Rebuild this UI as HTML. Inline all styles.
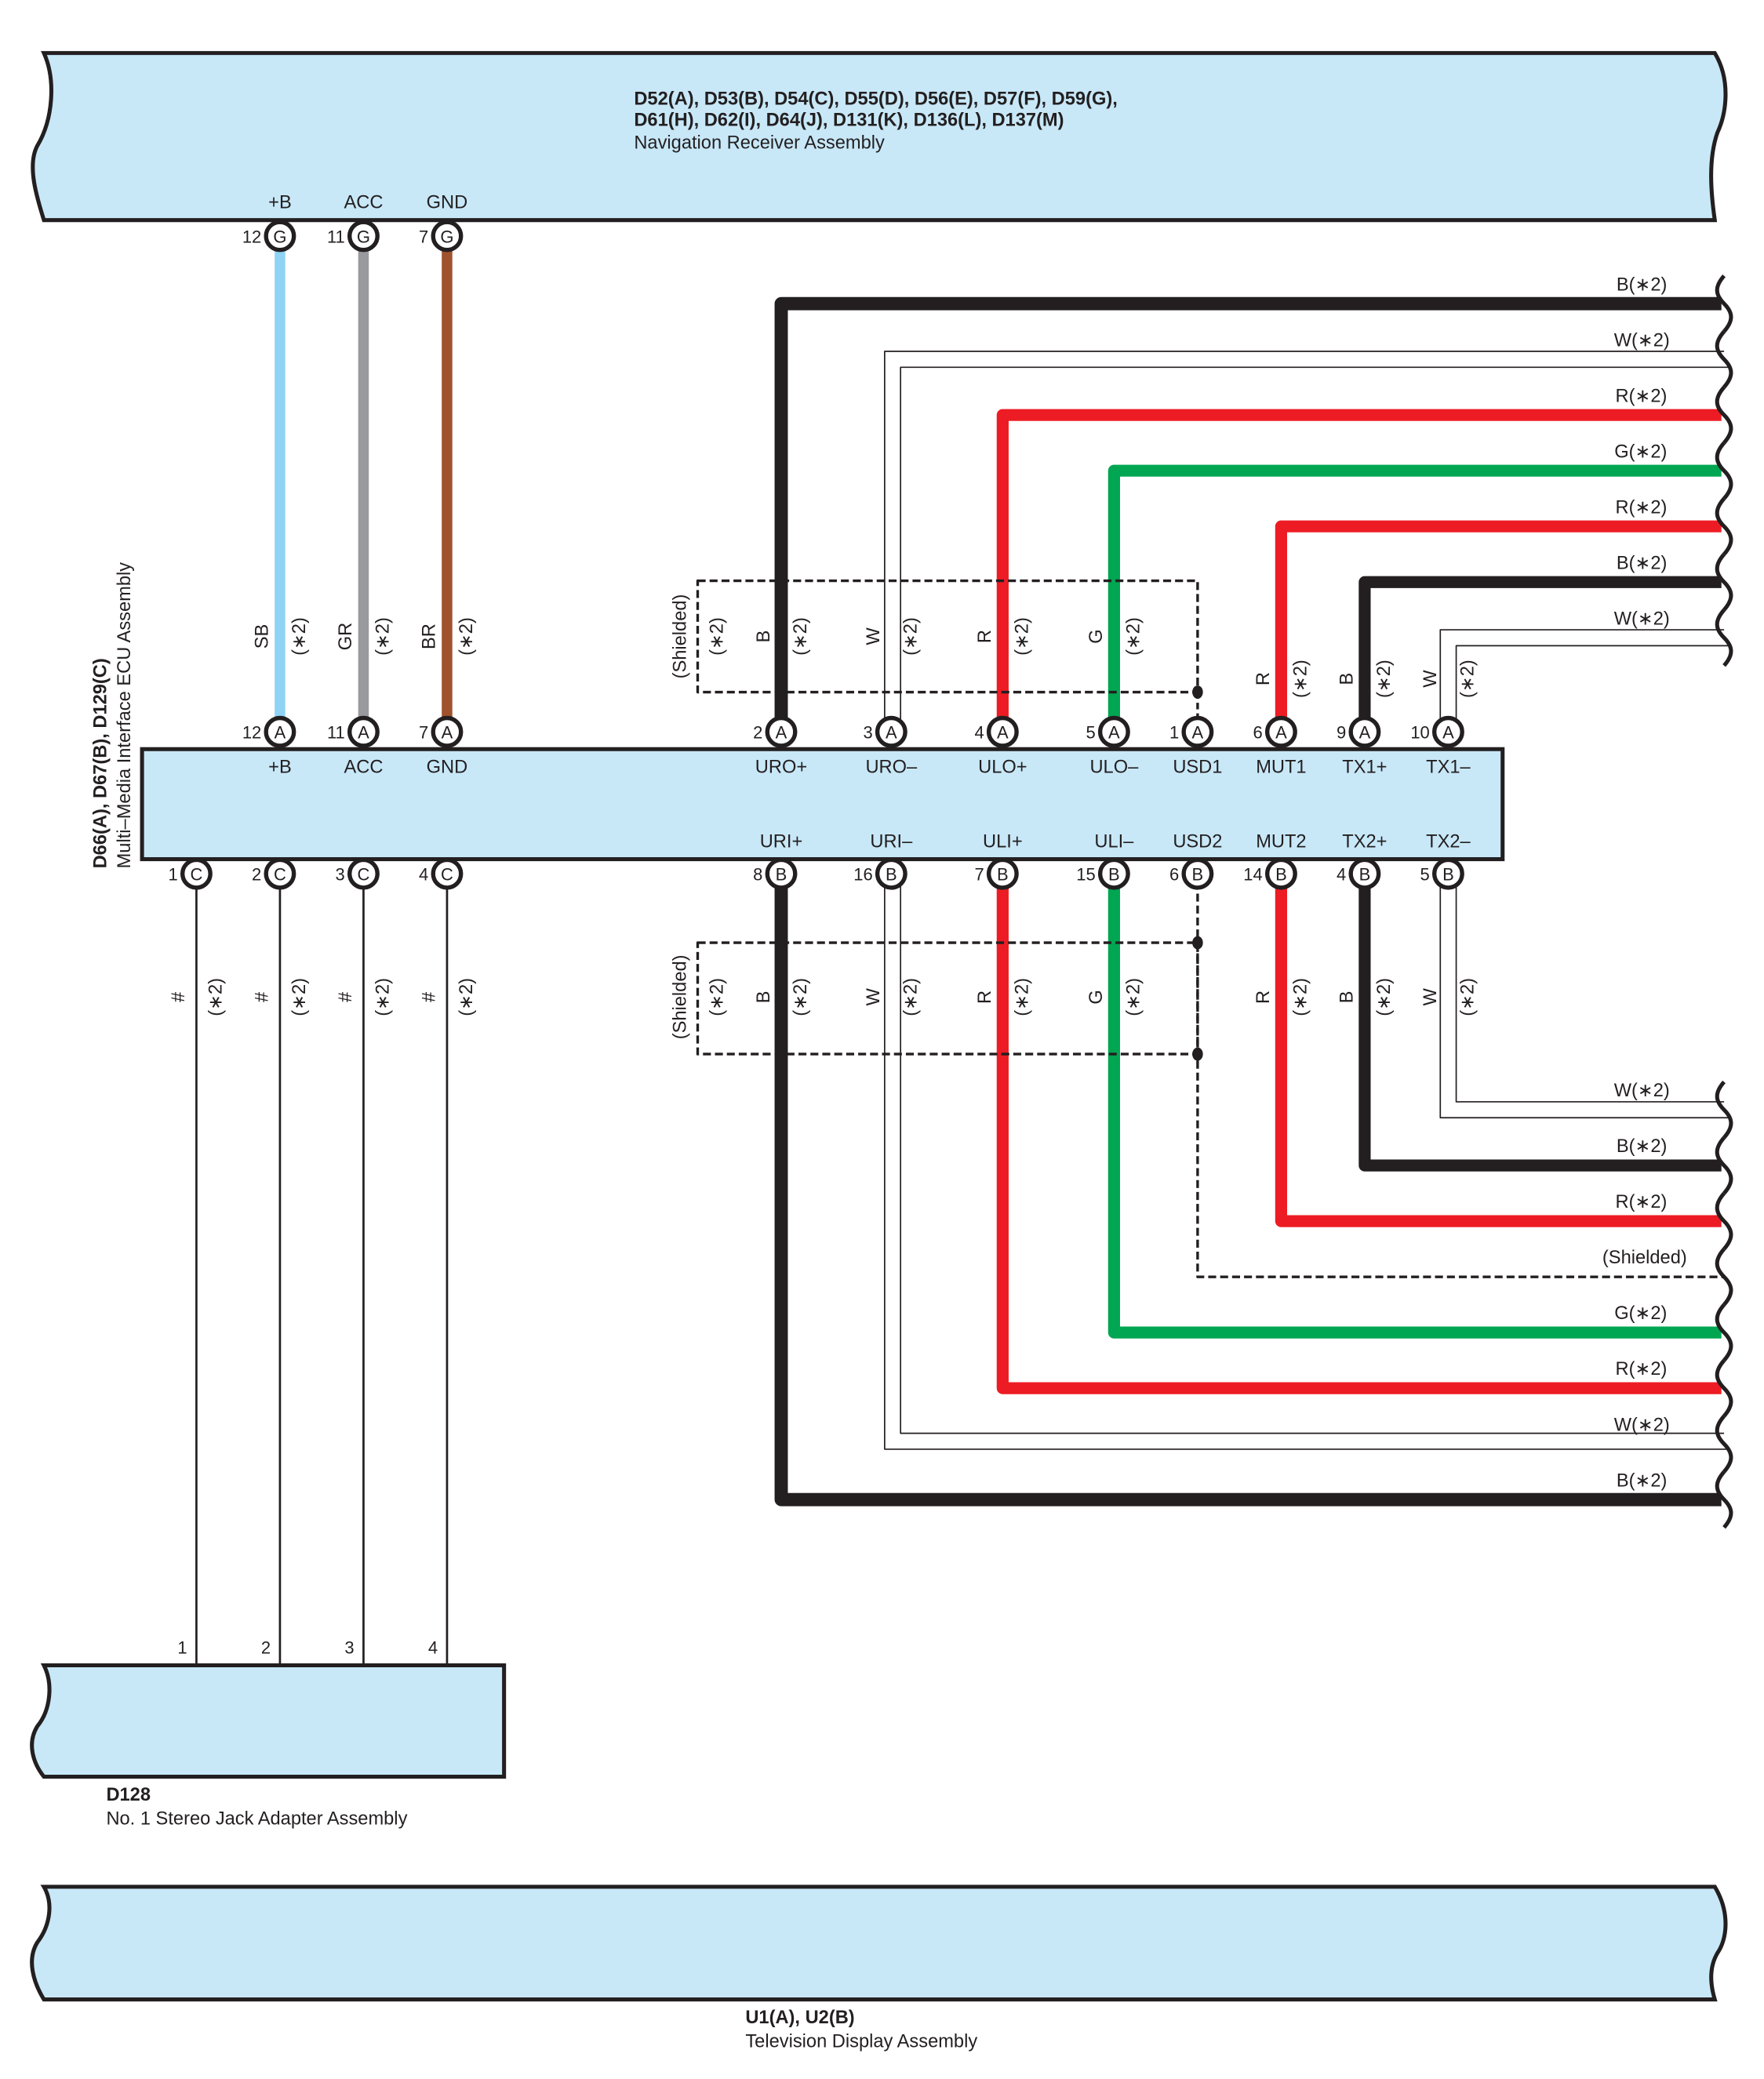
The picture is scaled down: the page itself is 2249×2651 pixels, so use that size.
<!DOCTYPE html>
<html><head><meta charset="utf-8"><style>
html,body{margin:0;padding:0;background:#fff}
svg{display:block}
text{font-family:"Liberation Sans",sans-serif;fill:#231f20}
.t{font-size:14px}
.b{font-size:14px;font-weight:bold}
.pl{font-size:14px;text-anchor:middle}
.pn{font-size:13px;text-anchor:end}
.cl{font-size:14px;text-anchor:middle}
.rl{font-size:14px;text-anchor:end}
</style></head><body>
<svg width="2249" height="2651" viewBox="0 0 1330 1568" xmlns="http://www.w3.org/2000/svg">
<defs>
<g id="cir"><circle r="10.5" fill="#fff" stroke="#231f20" stroke-width="3.2"/></g>
<path id="wv" d="M0,0 c-7,8 -7,14 0,21 c7,7 7,13 0,21" fill="none" stroke="#231f20" stroke-width="3"/>
</defs>
<!-- top banner -->
<path d="M33,40 L1293,40 C1305,60 1302,85 1295,100 C1288,120 1290,145 1293,166 L33,166 C28,150 20,125 28,110 C40,90 42,60 33,40 Z" fill="#c8e8f8" stroke="#231f20" stroke-width="3"/>
<text class="b" x="478" y="79">D52(A), D53(B), D54(C), D55(D), D56(E), D57(F), D59(G),</text>
<text class="b" x="478" y="95">D61(H), D62(I), D64(J), D131(K), D136(L), D137(M)</text>
<text class="t" x="478" y="112">Navigation Receiver Assembly</text>
<text class="pl" x="211" y="157">+B</text><text class="pl" x="274" y="157">ACC</text><text class="pl" x="337" y="157">GND</text>

<line x1="211" y1="185" x2="211" y2="545" stroke="#8fd3f5" stroke-width="8"/>
<line x1="274" y1="185" x2="274" y2="545" stroke="#999a9d" stroke-width="8"/>
<line x1="337" y1="185" x2="337" y2="545" stroke="#a0522d" stroke-width="8"/>

<g stroke="#231f20" stroke-width="1.6">
<line x1="148" y1="665" x2="148" y2="1256"/><line x1="211" y1="665" x2="211" y2="1256"/>
<line x1="274" y1="665" x2="274" y2="1256"/><line x1="337" y1="665" x2="337" y2="1256"/>
</g>

<g fill="none" stroke-linejoin="round">
<path d="M589,545 V229 H1298" stroke="#231f20" stroke-width="10"/>
<path d="M667,545 V265 H1300" stroke="#231f20" stroke-width="1"/>
<path d="M679,545 V277 H1304" stroke="#231f20" stroke-width="1"/>
<path d="M756,545 V313 H1298" stroke="#ed1c24" stroke-width="9"/>
<path d="M840,545 V355 H1298" stroke="#00a651" stroke-width="9"/>
<path d="M966,545 V397 H1298" stroke="#ed1c24" stroke-width="9"/>
<path d="M1029,545 V439 H1298" stroke="#231f20" stroke-width="9"/>
<path d="M1086,545 V475 H1300" stroke="#231f20" stroke-width="1"/>
<path d="M1098,545 V487 H1304" stroke="#231f20" stroke-width="1"/>
<path d="M589,665 V1131 H1298" stroke="#231f20" stroke-width="10"/>
<path d="M667,665 V1093 H1304" stroke="#231f20" stroke-width="1"/>
<path d="M679,665 V1081 H1300" stroke="#231f20" stroke-width="1"/>
<path d="M756,665 V1047 H1298" stroke="#ed1c24" stroke-width="9"/>
<path d="M840,665 V1005 H1298" stroke="#00a651" stroke-width="9"/>
<path d="M903,665 V963 H1300" stroke="#231f20" stroke-width="2" stroke-dasharray="6,3"/>
<path d="M966,665 V921 H1298" stroke="#ed1c24" stroke-width="9"/>
<path d="M1029,665 V879 H1298" stroke="#231f20" stroke-width="9"/>
<path d="M1098,665 V831 H1300" stroke="#231f20" stroke-width="1"/>
<path d="M1086,665 V843 H1304" stroke="#231f20" stroke-width="1"/>
<rect x="526" y="438" width="377" height="84" stroke="#231f20" stroke-width="2" stroke-dasharray="6,3"/>
<line x1="903" y1="522" x2="903" y2="545" stroke="#231f20" stroke-width="2" stroke-dasharray="5,3"/>
<rect x="526" y="711" width="377" height="84" stroke="#231f20" stroke-width="2" stroke-dasharray="6,3"/>
</g>
<ellipse cx="903" cy="522" rx="4" ry="5" fill="#231f20"/>
<ellipse cx="903" cy="711" rx="4" ry="5" fill="#231f20"/>
<ellipse cx="903" cy="795" rx="4" ry="5" fill="#231f20"/>

<!-- break marks -->
<use href="#wv" x="1300" y="208"/><use href="#wv" x="1300" y="250"/><use href="#wv" x="1300" y="292"/><use href="#wv" x="1300" y="334"/><use href="#wv" x="1300" y="376"/><use href="#wv" x="1300" y="418"/><use href="#wv" x="1300" y="460"/>
<use href="#wv" x="1300" y="816"/><use href="#wv" x="1300" y="858"/><use href="#wv" x="1300" y="900"/><use href="#wv" x="1300" y="942"/><use href="#wv" x="1300" y="984"/><use href="#wv" x="1300" y="1026"/><use href="#wv" x="1300" y="1068"/><use href="#wv" x="1300" y="1110"/>

<text class="rl" x="1257" y="219">B(∗2)</text>
<text class="rl" x="1259" y="261">W(∗2)</text>
<text class="rl" x="1257" y="303">R(∗2)</text>
<text class="rl" x="1257" y="345">G(∗2)</text>
<text class="rl" x="1257" y="387">R(∗2)</text>
<text class="rl" x="1257" y="429">B(∗2)</text>
<text class="rl" x="1259" y="471">W(∗2)</text>
<text class="rl" x="1259" y="827">W(∗2)</text>
<text class="rl" x="1257" y="869">B(∗2)</text>
<text class="rl" x="1257" y="911">R(∗2)</text>
<text class="rl" x="1272" y="953">(Shielded)</text>
<text class="rl" x="1257" y="995">G(∗2)</text>
<text class="rl" x="1257" y="1037">R(∗2)</text>
<text class="rl" x="1259" y="1079">W(∗2)</text>
<text class="rl" x="1257" y="1121">B(∗2)</text>

<rect x="107" y="565" width="1026" height="83" fill="#c8e8f8" stroke="#231f20" stroke-width="3"/>
<text class="pl" x="211" y="583">+B</text><text class="pl" x="274" y="583">ACC</text><text class="pl" x="337" y="583">GND</text>
<text class="pl" x="589" y="583">URO+</text><text class="pl" x="672" y="583">URO–</text><text class="pl" x="756" y="583">ULO+</text><text class="pl" x="840" y="583">ULO–</text><text class="pl" x="903" y="583">USD1</text><text class="pl" x="966" y="583">MUT1</text><text class="pl" x="1029" y="583">TX1+</text><text class="pl" x="1092" y="583">TX1–</text>
<text class="pl" x="589" y="639">URI+</text><text class="pl" x="672" y="639">URI–</text><text class="pl" x="756" y="639">ULI+</text><text class="pl" x="840" y="639">ULI–</text><text class="pl" x="903" y="639">USD2</text><text class="pl" x="966" y="639">MUT2</text><text class="pl" x="1029" y="639">TX2+</text><text class="pl" x="1092" y="639">TX2–</text>
<text class="b" transform="translate(80,655) rotate(-90)">D66(A), D67(B), D129(C)</text>
<text class="t" transform="translate(98,655) rotate(-90)">Multi–Media Interface ECU Assembly</text>

<g font-size="13" text-anchor="middle">
<use href="#cir" x="211" y="178"/><use href="#cir" x="274" y="178"/><use href="#cir" x="337" y="178"/>
<text x="211" y="183">G</text><text x="274" y="183">G</text><text x="337" y="183">G</text>
<use href="#cir" x="211" y="552"/><use href="#cir" x="274" y="552"/><use href="#cir" x="337" y="552"/>
<use href="#cir" x="589" y="552"/><use href="#cir" x="672" y="552"/><use href="#cir" x="756" y="552"/><use href="#cir" x="840" y="552"/><use href="#cir" x="903" y="552"/><use href="#cir" x="966" y="552"/><use href="#cir" x="1029" y="552"/><use href="#cir" x="1092" y="552"/>
<text x="211" y="557">A</text><text x="274" y="557">A</text><text x="337" y="557">A</text><text x="589" y="557">A</text><text x="672" y="557">A</text><text x="756" y="557">A</text><text x="840" y="557">A</text><text x="903" y="557">A</text><text x="966" y="557">A</text><text x="1029" y="557">A</text><text x="1092" y="557">A</text>
<use href="#cir" x="148" y="659"/><use href="#cir" x="211" y="659"/><use href="#cir" x="274" y="659"/><use href="#cir" x="337" y="659"/>
<text x="148" y="664">C</text><text x="211" y="664">C</text><text x="274" y="664">C</text><text x="337" y="664">C</text>
<use href="#cir" x="589" y="659"/><use href="#cir" x="672" y="659"/><use href="#cir" x="756" y="659"/><use href="#cir" x="840" y="659"/><use href="#cir" x="903" y="659"/><use href="#cir" x="966" y="659"/><use href="#cir" x="1029" y="659"/><use href="#cir" x="1092" y="659"/>
<text x="589" y="664">B</text><text x="672" y="664">B</text><text x="756" y="664">B</text><text x="840" y="664">B</text><text x="903" y="664">B</text><text x="966" y="664">B</text><text x="1029" y="664">B</text><text x="1092" y="664">B</text>
</g>
<g>
<text class="pn" x="197" y="183">12</text><text class="pn" x="260" y="183">11</text><text class="pn" x="323" y="183">7</text>
<text class="pn" x="197" y="557">12</text><text class="pn" x="260" y="557">11</text><text class="pn" x="323" y="557">7</text>
<text class="pn" x="575" y="557">2</text><text class="pn" x="658" y="557">3</text><text class="pn" x="742" y="557">4</text><text class="pn" x="826" y="557">5</text><text class="pn" x="889" y="557">1</text><text class="pn" x="952" y="557">6</text><text class="pn" x="1015" y="557">9</text><text class="pn" x="1078" y="557">10</text>
<text class="pn" x="134" y="664">1</text><text class="pn" x="197" y="664">2</text><text class="pn" x="260" y="664">3</text><text class="pn" x="323" y="664">4</text>
<text class="pn" x="575" y="664">8</text><text class="pn" x="658" y="664">16</text><text class="pn" x="742" y="664">7</text><text class="pn" x="826" y="664">15</text><text class="pn" x="889" y="664">6</text><text class="pn" x="952" y="664">14</text><text class="pn" x="1015" y="664">4</text><text class="pn" x="1078" y="664">5</text>
</g>

<g>
<text class="cl" transform="translate(202,480) rotate(-90)">SB</text><text class="cl" transform="translate(230,480) rotate(-90)">(∗2)</text>
<text class="cl" transform="translate(265,480) rotate(-90)">GR</text><text class="cl" transform="translate(293,480) rotate(-90)">(∗2)</text>
<text class="cl" transform="translate(328,480) rotate(-90)">BR</text><text class="cl" transform="translate(356,480) rotate(-90)">(∗2)</text>
<text class="cl" transform="translate(517,480) rotate(-90)">(Shielded)</text><text class="cl" transform="translate(545,480) rotate(-90)">(∗2)</text>
<text class="cl" transform="translate(580,480) rotate(-90)">B</text><text class="cl" transform="translate(608,480) rotate(-90)">(∗2)</text>
<text class="cl" transform="translate(663,480) rotate(-90)">W</text><text class="cl" transform="translate(691,480) rotate(-90)">(∗2)</text>
<text class="cl" transform="translate(747,480) rotate(-90)">R</text><text class="cl" transform="translate(775,480) rotate(-90)">(∗2)</text>
<text class="cl" transform="translate(831,480) rotate(-90)">G</text><text class="cl" transform="translate(859,480) rotate(-90)">(∗2)</text>
<text class="cl" transform="translate(957,512) rotate(-90)">R</text><text class="cl" transform="translate(985,512) rotate(-90)">(∗2)</text>
<text class="cl" transform="translate(1020,512) rotate(-90)">B</text><text class="cl" transform="translate(1048,512) rotate(-90)">(∗2)</text>
<text class="cl" transform="translate(1083,512) rotate(-90)">W</text><text class="cl" transform="translate(1111,512) rotate(-90)">(∗2)</text>
<text class="cl" transform="translate(139,752) rotate(-90)">#</text><text class="cl" transform="translate(167,752) rotate(-90)">(∗2)</text>
<text class="cl" transform="translate(202,752) rotate(-90)">#</text><text class="cl" transform="translate(230,752) rotate(-90)">(∗2)</text>
<text class="cl" transform="translate(265,752) rotate(-90)">#</text><text class="cl" transform="translate(293,752) rotate(-90)">(∗2)</text>
<text class="cl" transform="translate(328,752) rotate(-90)">#</text><text class="cl" transform="translate(356,752) rotate(-90)">(∗2)</text>
<text class="cl" transform="translate(517,752) rotate(-90)">(Shielded)</text><text class="cl" transform="translate(545,752) rotate(-90)">(∗2)</text>
<text class="cl" transform="translate(580,752) rotate(-90)">B</text><text class="cl" transform="translate(608,752) rotate(-90)">(∗2)</text>
<text class="cl" transform="translate(663,752) rotate(-90)">W</text><text class="cl" transform="translate(691,752) rotate(-90)">(∗2)</text>
<text class="cl" transform="translate(747,752) rotate(-90)">R</text><text class="cl" transform="translate(775,752) rotate(-90)">(∗2)</text>
<text class="cl" transform="translate(831,752) rotate(-90)">G</text><text class="cl" transform="translate(859,752) rotate(-90)">(∗2)</text>
<text class="cl" transform="translate(957,752) rotate(-90)">R</text><text class="cl" transform="translate(985,752) rotate(-90)">(∗2)</text>
<text class="cl" transform="translate(1020,752) rotate(-90)">B</text><text class="cl" transform="translate(1048,752) rotate(-90)">(∗2)</text>
<text class="cl" transform="translate(1083,752) rotate(-90)">W</text><text class="cl" transform="translate(1111,752) rotate(-90)">(∗2)</text>
</g>

<path d="M33,1256 L380,1256 L380,1340 L33,1340 C25,1330 20,1315 28,1302 C38,1290 40,1270 33,1256 Z" fill="#c8e8f8" stroke="#231f20" stroke-width="3"/>
<text class="pn" x="141" y="1247">1</text><text class="pn" x="204" y="1247">2</text><text class="pn" x="267" y="1247">3</text><text class="pn" x="330" y="1247">4</text>
<text class="b" x="80" y="1358">D128</text>
<text class="t" x="80" y="1376">No.  1 Stereo Jack Adapter Assembly</text>

<path d="M33,1423 L1293,1423 C1305,1443 1302,1463 1295,1473 C1288,1485 1290,1498 1293,1508 L33,1508 C25,1495 20,1478 28,1465 C38,1452 40,1435 33,1423 Z" fill="#c8e8f8" stroke="#231f20" stroke-width="3"/>
<text class="b" x="562" y="1526">U1(A), U2(B)</text>
<text class="t" x="562" y="1544">Television Display Assembly</text>
</svg>
</body></html>
